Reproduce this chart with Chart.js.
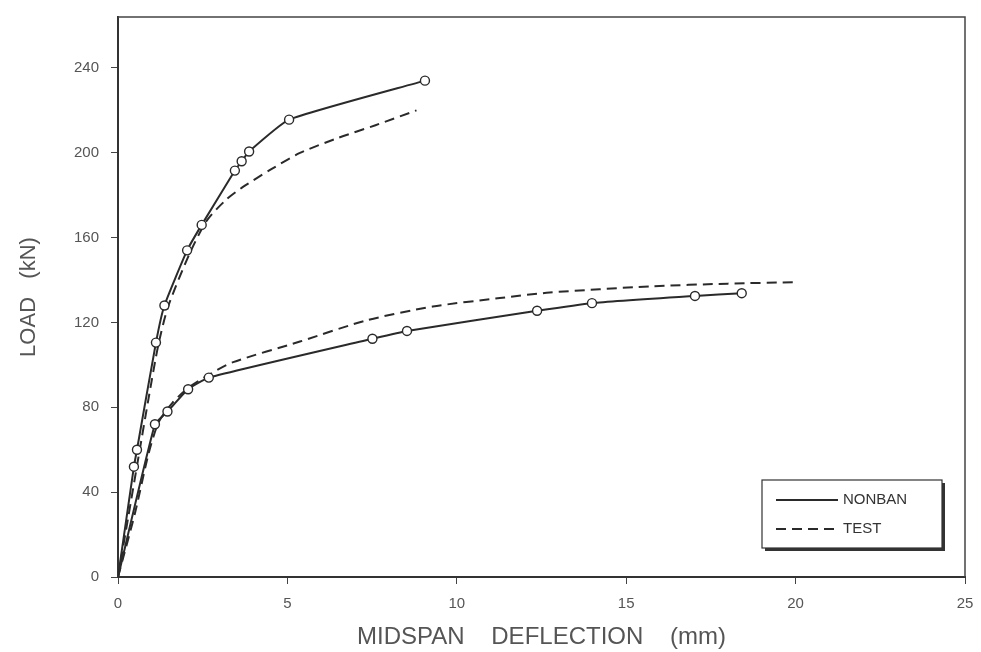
<!DOCTYPE html>
<html>
<head>
<meta charset="utf-8">
<script src="https://cdn.jsdelivr.net/npm/chart.js@4"></script>
<style>
  html, body { margin: 0; padding: 0; background: #fff; }
  #wrap { width: 981px; height: 652px; }
</style>
</head>
<body>
<div id="wrap"><canvas id="loadChart" width="981" height="652"></canvas></div>
<script>
// data (deflection mm, load kN)
var nonbanUpperX = [0, 0.47, 0.56, 1.12, 1.37, 2.04, 2.47, 3.45, 3.65, 3.87, 5.05, 9.06];
var nonbanUpperY = [0, 52, 60, 110.5, 128, 154, 166, 191.6, 196, 200.6, 215.6, 234];
var nonbanLowerX = [0, 1.09, 1.46, 2.07, 2.68, 7.51, 8.53, 12.37, 13.99, 17.03, 18.41];
var nonbanLowerY = [0, 72, 78, 88.5, 94, 112.3, 116, 125.5, 129.1, 132.5, 133.8];
var testUpperX = [0, 0.30, 0.62, 0.90, 1.19, 1.48, 2.10, 2.62, 3.20, 3.70, 4.50, 5.37, 6.50, 7.60, 8.81];
var testUpperY = [0, 28, 58, 84, 109.4, 127.5, 152, 168, 178, 184, 192, 199.9, 207, 213, 220];
var testLowerX = [0, 0.50, 0.90, 1.20, 1.60, 2.10, 2.70, 3.40, 5.37, 7.34, 9.29, 11.27, 12.74, 15.69, 18.00, 20.02];
var testLowerY = [0, 30, 58, 73, 82, 89.5, 95.5, 101.3, 111, 121, 127.5, 131.5, 134.1, 137, 138.3, 139];
var xTicks = [0, 5, 10, 15, 20, 25];
var yTicks = [0, 40, 80, 120, 160, 200, 240];

function pts(xs, ys) {
  return xs.map(function (x, i) { return { x: x, y: ys[i] }; });
}

var ink = '#2a2a2a';
var textCol = '#555';
var dash = [10, 6];
var fontFam = '"Liberation Sans", Arial, sans-serif';

function solidSet(label, xs, ys) {
  return {
    label: label,
    data: pts(xs, ys),
    borderColor: ink,
    borderWidth: 2,
    backgroundColor: '#fff',
    pointBackgroundColor: '#fff',
    pointBorderColor: ink,
    pointBorderWidth: 1.4,
    pointRadius: function (c) { return c.dataIndex === 0 ? 0 : 4.5; },
    tension: 0.15,
    fill: false
  };
}
function dashSet(label, xs, ys) {
  return {
    label: label,
    data: pts(xs, ys),
    borderColor: ink,
    borderWidth: 2,
    borderDash: dash,
    pointRadius: 0,
    tension: 0.25,
    fill: false
  };
}

// frame round the plot and the boxed legend
var framePlugin = {
  id: 'frame',
  afterDraw: function (chart) {
    var a = chart.chartArea, g = chart.ctx;
    g.save();
    g.strokeStyle = '#444';
    g.lineWidth = 1.5;
    g.beginPath();
    g.moveTo(a.left, a.top); g.lineTo(a.right, a.top); g.lineTo(a.right, a.bottom);
    g.stroke();

    // legend box
    var bx = a.right - 203, by = a.bottom - 97, bw = 180, bh = 68;
    g.fillStyle = '#333';
    g.fillRect(bx + 3, by + 3, bw, bh);
    g.fillStyle = '#fff';
    g.fillRect(bx, by, bw, bh);
    g.strokeStyle = '#333';
    g.lineWidth = 1.2;
    g.strokeRect(bx, by, bw, bh);

    g.strokeStyle = ink;
    g.lineWidth = 2;
    g.beginPath(); g.moveTo(bx + 14, by + 20); g.lineTo(bx + 76, by + 20); g.stroke();
    g.setLineDash(dash);
    g.beginPath(); g.moveTo(bx + 14, by + 49); g.lineTo(bx + 76, by + 49); g.stroke();
    g.setLineDash([]);

    g.fillStyle = '#333';
    g.font = '15px ' + fontFam;
    g.textBaseline = 'middle';
    g.fillText('NONBAN', bx + 81, by + 20);
    g.fillText('TEST', bx + 81, by + 49);
    g.restore();
  }
};

new Chart(document.getElementById('loadChart'), {
  type: 'line',
  data: {
    datasets: [
      solidSet('NONBAN', nonbanUpperX, nonbanUpperY),
      solidSet('NONBAN', nonbanLowerX, nonbanLowerY),
      dashSet('TEST', testUpperX, testUpperY),
      dashSet('TEST', testLowerX, testLowerY)
    ]
  },
  options: {
    responsive: false,
    animation: false,
    layout: { padding: { left: 0, top: 17, right: 16, bottom: 0 } },
    plugins: {
      legend: { display: false },
      tooltip: { enabled: false }
    },
    scales: {
      x: {
        type: 'linear',
        min: 0,
        max: 25,
        afterBuildTicks: function (s) { s.ticks = xTicks.map(function (v) { return { value: v }; }); },
        afterFit: function (s) { s.height = 75; s.paddingRight = 0; s.paddingLeft = 0; },
        grid: { display: true, drawOnChartArea: false, drawTicks: true, tickLength: 7, color: '#444' },
        border: { display: true, color: '#333', width: 2 },
        ticks: {
          color: textCol,
          padding: 11,
          maxRotation: 0,
          font: { family: fontFam, size: 15 }
        },
        title: {
          display: true,
          text: 'MIDSPAN    DEFLECTION    (mm)',
          color: textCol,
          padding: { top: 0, bottom: 0 },
          font: { family: fontFam, size: 24 }
        }
      },
      y: {
        type: 'linear',
        min: 0,
        max: 264,
        afterBuildTicks: function (s) { s.ticks = yTicks.map(function (v) { return { value: v }; }); },
        afterFit: function (s) { s.width = 118; s.paddingTop = 0; s.paddingBottom = 0; },
        grid: { display: true, drawOnChartArea: false, drawTicks: true, tickLength: 7, color: '#444' },
        border: { display: true, color: '#333', width: 2 },
        ticks: {
          color: textCol,
          padding: 12,
          font: { family: fontFam, size: 15 }
        },
        title: {
          display: true,
          text: 'LOAD   (kN)',
          color: textCol,
          padding: { top: 16, bottom: 0 },
          font: { family: fontFam, size: 22 }
        }
      }
    }
  },
  plugins: [framePlugin]
});
</script>
</body>
</html>
